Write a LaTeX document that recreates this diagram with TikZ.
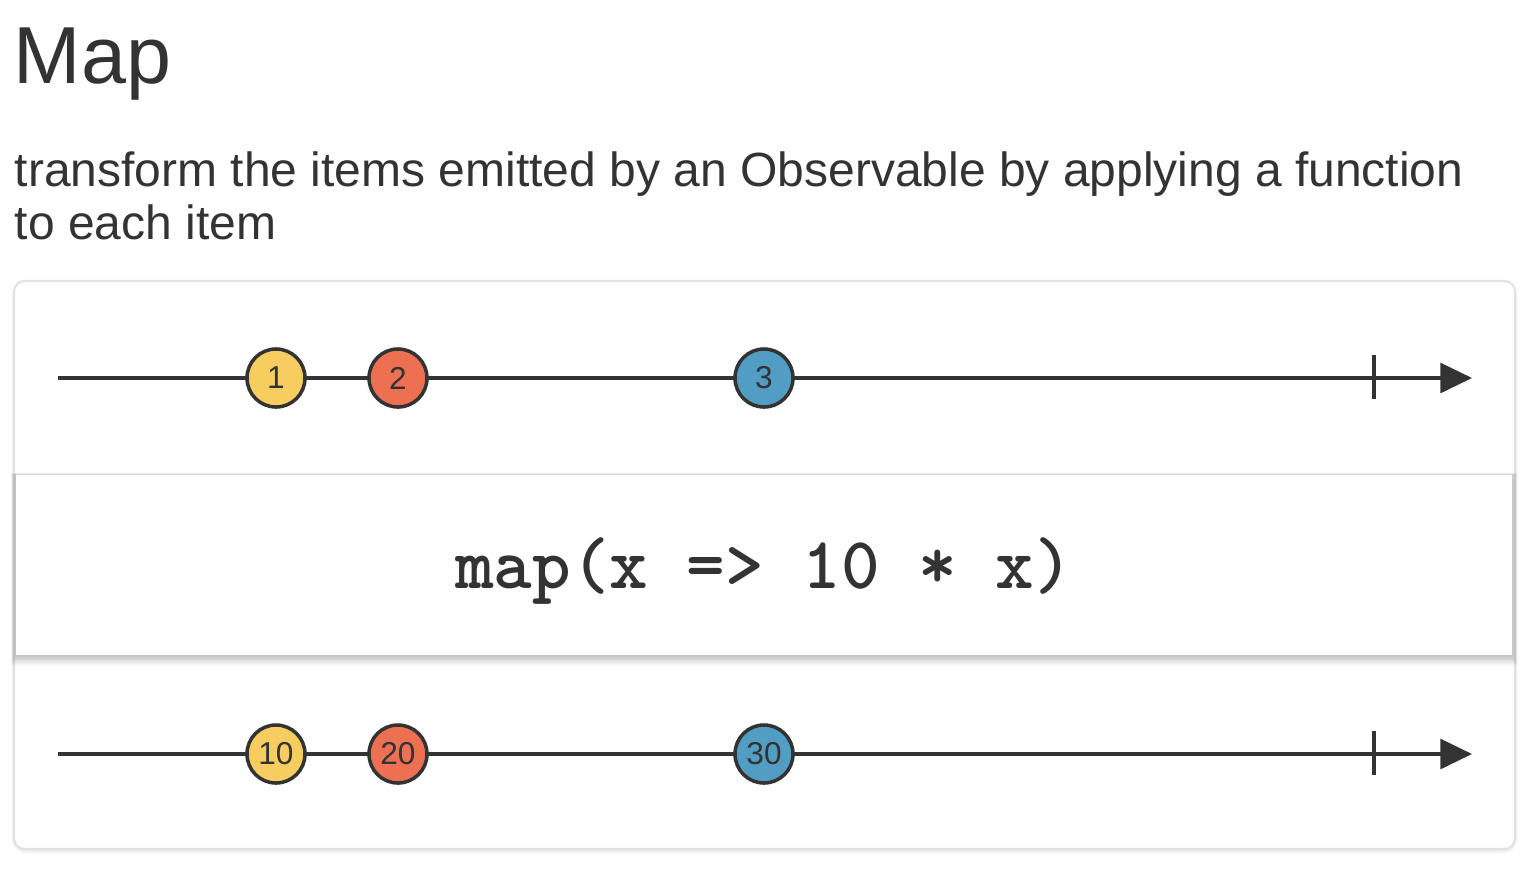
\documentclass[tikz,border=0pt]{standalone}
\usepackage{fontspec}
\setmainfont{Liberation Sans}
\usetikzlibrary{arrows.meta}
\definecolor{ink}{HTML}{333333}
\definecolor{panelgray}{HTML}{E2E2E2}
\definecolor{marbleyellow}{HTML}{F8CD5F}
\definecolor{marblered}{HTML}{EE7052}
\definecolor{marbleblue}{HTML}{529DC4}
\tikzset{
  timeline/.style={ink, line width=0.95pt, -{Triangle[length=9pt, width=8.5pt]}},
  endtick/.style={ink, line width=0.95pt},
  marble/.style={circle, draw=ink, line width=1pt, minimum size=0.58cm, inner sep=0pt,
    text=ink, font=\fontsize{9}{9}\selectfont},
}
\begin{document}
\begin{tikzpicture}[x=0.01cm, y=-0.01cm]
                \useasboundingbox (0,0) rectangle (1536,878);
                % heading
                \node[anchor=base west, inner sep=0pt, text=ink, font=\fontsize{23}{23}\selectfont] (title) at (13,83) {Map};
                \node[anchor=base west, inner sep=0pt, text=ink, font=\fontsize{13.65}{13.65}\selectfont] (line1) at (14,186) {transform the items emitted by an Observable by applying a function};
                \node[anchor=base west, inner sep=0pt, text=ink, font=\fontsize{13.65}{13.65}\selectfont] (line2) at (14,239) {to each item};
                % panel
                \foreach \d in {1,...,5}
                  \fill[black, opacity=0.02, rounded corners=4] (14-\d/2,281) rectangle (1515+\d/2,849+\d);
                \draw[panelgray, line width=0.6pt, fill=white, rounded corners=3] (14,281) rectangle (1515,849);
                % operator box
                \foreach \d in {1,...,12}
                  \fill[black, opacity=0.02] (16-\d*0.45,475.5-\d*0.25) rectangle (1512+\d*0.45,655+\d*0.9);
                \fill[white] (16,475) rectangle (1512,655);
                \node[anchor=base, inner sep=0pt, text=ink, font=\ttfamily\bfseries\fontsize{20.9}{20.9}\selectfont] (op) at (764,588) {map(x => 10 * x)};
                % source
                \coordinate (in1) at (58,378);
                \coordinate (out1) at (1472,378);
                \draw[timeline] (in1) -- (out1);
                \draw[endtick] (1374,355) -- (1374,399);
                \node[marble, fill=marbleyellow] (a1) at (276,378) {1};
                \node[marble, fill=marblered] (a2) at (398,378) {2};
                \node[marble, fill=marbleblue] (a3) at (764,378) {3};
                % result
                \coordinate (in2) at (58,754);
                \coordinate (out2) at (1472,754);
                \draw[timeline] (in2) -- (out2);
                \draw[endtick] (1374,731) -- (1374,775);
                \node[marble, fill=marbleyellow] (b1) at (276,754) {10};
                \node[marble, fill=marblered] (b2) at (398,754) {20};
                \node[marble, fill=marbleblue] (b3) at (764,754) {30};
            \end{tikzpicture}
\end{document}
